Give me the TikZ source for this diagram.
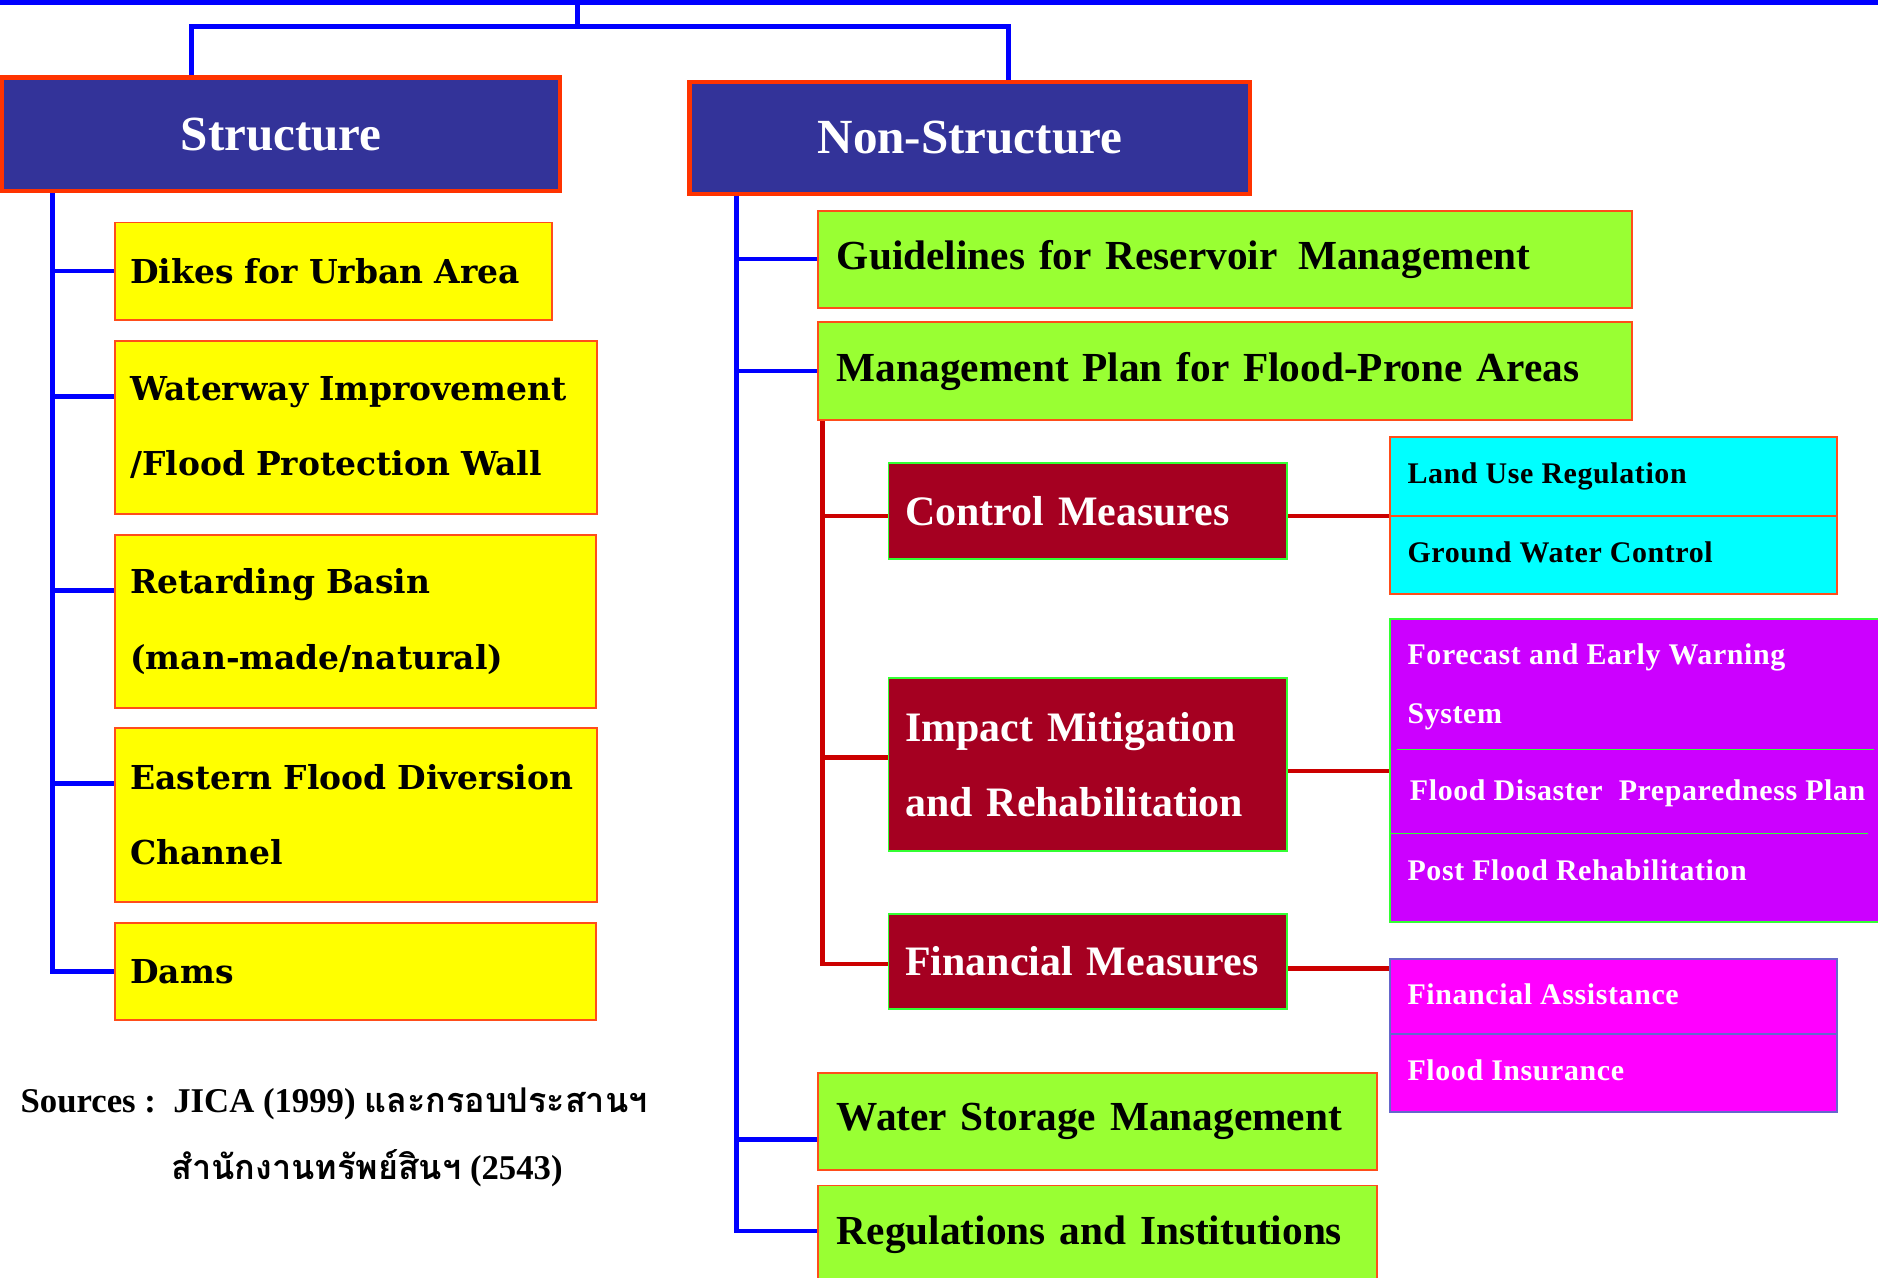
\documentclass[tikz,border=0pt]{standalone}
\usepackage{fontspec}
\setmainfont{Liberation Serif}
\newfontfamily\widefont{DejaVu Serif}
\newfontfamily\leaffont{Liberation Serif}[LetterSpace=2]
\newfontfamily\thaifont[Script=Thai]{Loma}

\definecolor{hdrblue}{HTML}{333399}
\definecolor{hdredge}{HTML}{FF3300}
\definecolor{lineblue}{HTML}{0000FF}
\definecolor{boxyellow}{HTML}{FFFF00}
\definecolor{boxedge}{HTML}{FF4D1A}
\definecolor{leafgreen}{HTML}{99FF33}
\definecolor{darkred}{HTML}{A50021}
\definecolor{edgegreen}{HTML}{33FF33}
\definecolor{linered}{HTML}{CC0000}
\definecolor{boxaqua}{HTML}{00FFFF}
\definecolor{boxviolet}{HTML}{CC00FF}
\definecolor{boxmagenta}{HTML}{FF00FF}
\definecolor{edgeslate}{HTML}{6666CC}

\tikzset{
  box/.style={draw, rectangle, anchor=north west, inner ysep=0pt, align=left},
  header/.style={box, fill=hdrblue, draw=hdredge, line width=3.5pt, text=white,
    align=center, inner xsep=0pt, font=\bfseries\fontsize{41}{48}\selectfont},
  ybox/.style={box, fill=boxyellow, draw=boxedge, line width=1.6pt, inner xsep=13pt,
    font=\widefont\bfseries\fontsize{27.5}{63}\selectfont},
  gbox/.style={box, fill=leafgreen, draw=boxedge, line width=1.6pt, inner xsep=16pt,
    font=\bfseries\fontsize{34.5}{63}\selectfont},
  rbox/.style={box, fill=darkred, draw=edgegreen, line width=1.6pt, inner xsep=14pt,
    text=white, font=\bfseries\fontsize{35}{63}\selectfont},
  panel/.style={draw, rectangle, anchor=north west, inner sep=0pt, line width=1.6pt},
  leaf/.style={anchor=base west, inner sep=0pt, font=\leaffont\bfseries\fontsize{25}{30}\selectfont},
  bline/.style={draw=lineblue, line width=4pt},
  rline/.style={draw=linered, line width=4pt},
  srcnote/.style={anchor=west, inner sep=0pt, font=\bfseries\fontsize{29}{34}\selectfont},
}

\begin{document}
\begin{tikzpicture}[x=1pt, y=-1pt]
\useasboundingbox (0,0) rectangle (1568,1067);

% ---- top-level headers
\node[header, minimum width=466pt, minimum height=95pt] (struct) at (0,63) {Structure};
\node[header, minimum width=468pt, minimum height=93pt] (nonstruct) at (574,67) {Non-Structure};

% ---- structural measures
\node[ybox, text width=339pt, minimum height=81pt]  (dikes)    at (95,185) {Dikes for Urban Area};
\node[ybox, text width=377pt, minimum height=144pt] (waterway) at (95,284) {Waterway Improvement\\/Flood Protection Wall};
\node[ybox, text width=376pt, minimum height=144pt] (retard)   at (95,446) {Retarding Basin\\(man-made/natural)};
\node[ybox, text width=377pt, minimum height=145pt] (eastern)  at (95,607) {Eastern Flood Diversion\\Channel};
\node[ybox, text width=376pt, minimum height=81pt]  (dams)     at (95,770) {Dams};

% ---- non-structural measures
\node[gbox, text width=648pt, minimum height=81pt] (guide) at (682,175) {Guidelines for Reservoir\ \,Management};
\node[gbox, text width=648pt, minimum height=82pt] (mgmt)  at (682,268) {Management Plan for Flood-Prone Areas};
\node[gbox, text width=435pt, minimum height=81pt] (water) at (682,895) {Water Storage Management};
\node[gbox, text width=435pt, minimum height=82pt] (regs)  at (682,989) {Regulations and Institutions};

% ---- flood-prone area plan components
\node[rbox, text width=305pt, minimum height=80pt]  (control)   at (741,386) {Control Measures};
\node[rbox, text width=305pt, minimum height=145pt] (impact)    at (741,565) {Impact Mitigation\\and Rehabilitation};
\node[rbox, text width=305pt, minimum height=80pt]  (financial) at (741,762) {Financial Measures};

% ---- detail panels
\node[panel, fill=boxaqua, draw=boxedge, minimum width=373pt, minimum height=131pt] (aqua) at (1160,364) {};
\draw[boxedge, line width=1.6pt] (1160,431) -- (1533,431);
\node[leaf] (landuse) at (1175,404) {Land Use Regulation};
\node[leaf] (ground)  at (1175,470) {Ground Water Control};

\node[panel, fill=boxviolet, draw=edgegreen, minimum width=420pt, minimum height=253pt] (violetp) at (1160,516) {};
\draw[edgegreen, line width=1.2pt] (1166,626) -- (1565,626);
\draw[edgegreen, line width=1.2pt] (1160,696) -- (1560,696);
\node[leaf, text=white] (forecast) at (1175,555) {Forecast and Early Warning};
\node[leaf, text=white] (system)   at (1175,604) {System};
\node[leaf, text=white] (prepare)  at (1177,668) {Flood Disaster\ \ Preparedness Plan};
\node[leaf, text=white] (postfl)   at (1175,735) {Post Flood Rehabilitation};

\node[panel, fill=boxmagenta, draw=edgeslate, minimum width=373pt, minimum height=128pt] (magp) at (1160,800) {};
\draw[edgeslate, line width=1.6pt] (1160,863) -- (1533,863);
\node[leaf, text=white] (assist) at (1175,839) {Financial Assistance};
\node[leaf, text=white] (insure) at (1175,902) {Flood Insurance};

% ---- root bar and fork
\coordinate (topL) at (0,2);
\coordinate (topR) at (1568,2);
\coordinate (root) at (482,2);
\coordinate (fork) at (482,22);
\draw[draw=lineblue, line width=5pt] (topL) -- (topR);
\draw[bline] (root) -- (fork);
\draw[bline] ([xshift=160pt]struct.north west) |- (fork) -| ([xshift=268pt]nonstruct.north west);

% ---- structure trunk
\draw[bline] ([xshift=44pt]struct.south west) |- (dikes.west);
\draw[bline] ([xshift=44pt]struct.south west) |- ([yshift=26pt]waterway.west);
\draw[bline] ([xshift=44pt]struct.south west) |- ([yshift=26pt]retard.west);
\draw[bline] ([xshift=44pt]struct.south west) |- ([yshift=26pt]eastern.west);
\draw[bline] ([xshift=44pt]struct.south west) |- (dams.west);

% ---- non-structure trunk
\draw[bline] ([xshift=41pt]nonstruct.south west) |- (guide.west);
\draw[bline] ([xshift=41pt]nonstruct.south west) |- (mgmt.west);
\draw[bline] ([xshift=41pt]nonstruct.south west) |- ([yshift=-15pt]water.west);
\draw[bline] ([xshift=41pt]nonstruct.south west) |- ([yshift=3pt]regs.west);

% ---- plan trunk
\draw[rline] ([xshift=5pt]mgmt.south west) |- ([yshift=-4pt]control.west);
\draw[rline] ([xshift=5pt]mgmt.south west) |- ([yshift=6pt]impact.west);
\draw[rline] ([xshift=5pt]mgmt.south west) |- ([yshift=-2pt]financial.west);

% ---- links to detail panels
\coordinate (cx) at ([yshift=-4pt]control.east);
\coordinate (ix) at ([yshift=-5.5pt]impact.east);
\coordinate (fx) at ([yshift=-6pt]financial.east);
\draw[rline] (cx) -- (cx -| aqua.west);
\draw[rline] (ix) -- (ix -| violetp.west);
\draw[rline] (fx) -- (fx -| magp.west);

% ---- source note
\node[srcnote] (src1) at (17,922) {Sources :\ \ JICA (1999) {\thaifont\fontsize{28.5}{34}\selectfont และกรอบประสานฯ}};
\node[srcnote] (src2) at (143,975) {{\thaifont\fontsize{28.5}{34}\selectfont สำนักงานทรัพย์สินฯ} (2543)};
\end{tikzpicture}
\end{document}
